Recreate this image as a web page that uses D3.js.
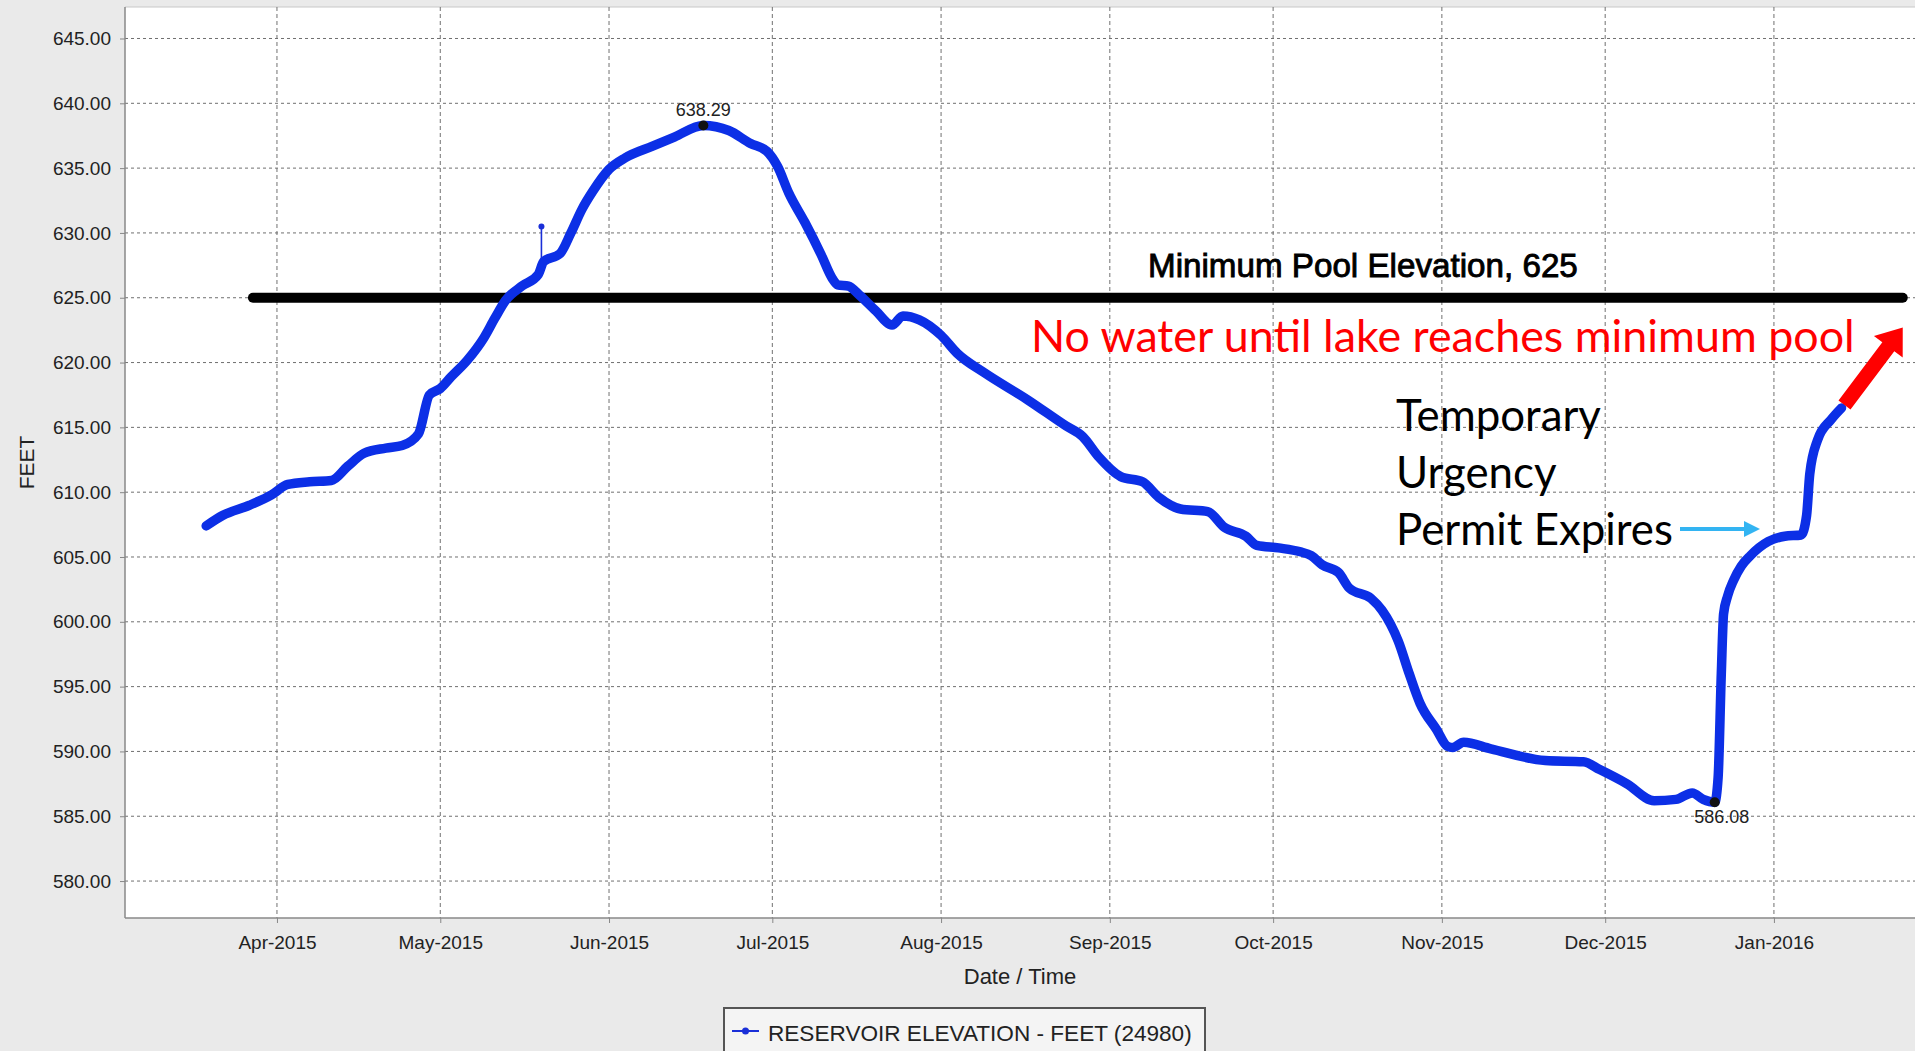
<!DOCTYPE html>
<html><head><meta charset="utf-8">
<script src="https://cdn.jsdelivr.net/npm/d3@7"></script>
<style>html,body{margin:0;padding:0;background:#eaeaea;overflow:hidden}</style>
</head><body><svg id="c" width="1915" height="1051"></svg>
<script>
// ---------- data ----------
const dates = ["2015-03-19","2015-03-22","2015-03-27","2015-03-31","2015-04-03","2015-04-07","2015-04-11","2015-04-14","2015-04-17","2015-04-21","2015-04-24","2015-04-27","2015-04-29","2015-05-01","2015-05-03","2015-05-06","2015-05-09","2015-05-11","2015-05-13","2015-05-16","2015-05-19","2015-05-20","2015-05-23","2015-05-25","2015-05-27","2015-05-29","2015-06-01","2015-06-04","2015-06-09","2015-06-13","2015-06-18T08:00","2015-06-23","2015-06-27","2015-06-30","2015-07-02","2015-07-04","2015-07-07","2015-07-10","2015-07-12","2015-07-13","2015-07-15","2015-07-17","2015-07-20","2015-07-23","2015-07-25","2015-07-28","2015-08-01","2015-08-04","2015-08-09","2015-08-17","2015-08-24","2015-08-27","2015-08-30","2015-09-03","2015-09-07","2015-09-10","2015-09-14","2015-09-19","2015-09-22","2015-09-26","2015-09-28","2015-10-02","2015-10-06","2015-10-08","2015-10-10","2015-10-13","2015-10-15","2015-10-19","2015-10-21","2015-10-24","2015-10-26","2015-10-28","2015-10-31","2015-11-02","2015-11-03","2015-11-05","2015-11-10","2015-11-20","2015-11-27","2015-11-30","2015-12-05","2015-12-10","2015-12-14","2015-12-17","2015-12-19","2015-12-21T03:00","2015-12-21T18:00","2015-12-22T08:00","2015-12-22T18:00","2015-12-23T12:00","2015-12-24T14:00","2015-12-26T00:00","2015-12-27T16:00","2015-12-31","2016-01-03","2016-01-06","2016-01-07","2016-01-07T14:00","2016-01-09","2016-01-11T12:00","2016-01-13T10:00"];
const elevations = [607.4,608.2,609.0,609.8,610.6,610.8,610.9,612.0,613.0,613.4,613.6,614.5,617.5,618.0,618.9,620.2,621.9,623.4,624.8,625.9,626.8,627.8,628.4,630.0,631.8,633.2,634.9,635.8,636.7,637.4,638.29,637.9,636.9,636.3,635.1,633.1,630.8,628.3,626.5,626.0,625.9,625.2,624.0,622.9,623.6,623.3,622.1,620.7,619.2,617.1,615.1,614.3,612.7,611.2,610.8,609.6,608.7,608.5,607.3,606.6,605.9,605.7,605.4,605.1,604.4,603.8,602.6,601.8,600.9,598.5,596.0,593.7,591.7,590.4,590.3,590.7,590.2,589.3,589.2,588.6,587.5,586.2,586.3,586.8,586.3,586.08,588.0,596.0,600.6,602.0,603.2,604.3,605.1,606.2,606.6,606.7,608.2,611.4,614.0,615.6,616.5];
const spikeDate = "2015-05-19T14:00";
const spikeValues = [627.0, 630.5];
const markerDates = ["2015-06-18T08:00","2015-12-21T03:00"];
const markerValues = [638.29, 586.08];
const yTicks = [580,585,590,595,600,605,610,615,620,625,630,635,640,645];
const xTickDates = ["2015-04-01","2015-05-01","2015-06-01","2015-07-01","2015-08-01","2015-09-01","2015-10-01","2015-11-01","2015-12-01","2016-01-01"];
const xTickLabels = ["Apr-2015","May-2015","Jun-2015","Jul-2015","Aug-2015","Sep-2015","Oct-2015","Nov-2015","Dec-2015","Jan-2016"];
const minPool = 625;
const minPoolSpan = ["2015-03-27T14:00","2016-01-24T16:00"];
const redArrowTip = ["2016-01-24T16:00", 622.7];
const seriesName = "RESERVOIR ELEVATION - FEET (24980)";
const yTitle = "FEET";
const xTitle = "Date / Time";
const poolText = "Minimum Pool Elevation, 625";
const redText = "No water until lake reaches minimum pool";
const noteLines = ["Temporary","Urgency","Permit Expires"];

// ---------- setup ----------
const parse = s => new Date(s);
const svg = d3.select("#c");
const P = {l:125, t:7, r:1915, b:918};
const x = d3.scaleTime().domain([parse("2015-03-04T02:00"), parse("2016-01-26T22:00")]).range([P.l, P.r]);
const y = d3.scaleLinear().domain([577.15, 647.43]).range([P.b, P.t]);

svg.append("rect").attr("width",1915).attr("height",1051).attr("fill","#eaeaea");
svg.append("rect").attr("x",P.l).attr("y",P.t).attr("width",P.r-P.l+5).attr("height",P.b-P.t).attr("fill","#ffffff");
svg.append("line").attr("x1",P.l).attr("x2",P.r).attr("y1",P.t).attr("y2",P.t).attr("stroke","#c8c8c8");

// grid
const g = svg.append("g");
g.selectAll(".hg").data(yTicks).join("line")
  .attr("x1",P.l).attr("x2",P.r).attr("y1",d=>y(d)).attr("y2",d=>y(d))
  .attr("stroke","#707070").attr("stroke-width",1).attr("stroke-dasharray","3,3");
g.selectAll(".vg").data(xTickDates).join("line")
  .attr("y1",P.t).attr("y2",P.b).attr("x1",d=>x(parse(d))).attr("x2",d=>x(parse(d)))
  .attr("stroke","#707070").attr("stroke-width",1).attr("stroke-dasharray","4,3");

// axes
const yAxis = d3.axisLeft(y).tickValues(yTicks).tickFormat(d3.format(".2f")).tickSize(5).tickPadding(9);
const ya = svg.append("g").attr("transform",`translate(${P.l},0)`).call(yAxis);
ya.select(".domain").attr("stroke","#888").attr("stroke-width",1.5).attr("d",`M0,${P.t}V${P.b}`);
ya.selectAll(".tick line").attr("stroke","#888");
ya.selectAll("text").attr("font-family","Liberation Sans, Arial, sans-serif").attr("font-size",19).attr("fill","#222");

const xAxis = d3.axisBottom(x).tickValues(xTickDates.map(parse)).tickFormat((d,i)=>xTickLabels[i]).tickSize(5).tickPadding(13);
const xa = svg.append("g").attr("transform",`translate(0,${P.b})`).call(xAxis);
xa.select(".domain").attr("stroke","#888").attr("stroke-width",1.5).attr("d",`M${P.l},0H${P.r}`);
xa.selectAll(".tick line").attr("stroke","#888");
xa.selectAll("text").attr("font-family","Liberation Sans, Arial, sans-serif").attr("font-size",19).attr("fill","#222");

svg.append("text").attr("x",(P.l+P.r)/2).attr("y",984).attr("text-anchor","middle")
  .attr("font-family","Liberation Sans, Arial, sans-serif").attr("font-size",22).attr("fill","#222").text(xTitle);
svg.append("text").attr("transform",`translate(34,${(P.t+P.b)/2}) rotate(-90)`).attr("text-anchor","middle")
  .attr("font-family","Liberation Sans, Arial, sans-serif").attr("font-size",21).attr("fill","#222").text(yTitle);

// minimum pool line
svg.append("line").attr("x1",x(parse(minPoolSpan[0]))).attr("x2",x(parse(minPoolSpan[1])))
  .attr("y1",y(minPool)).attr("y2",y(minPool)).attr("stroke","#000").attr("stroke-width",10).attr("stroke-linecap","round");

function fit(sel, w){ const cw = sel.node().getComputedTextLength(); const fs = parseFloat(sel.attr("font-size")); sel.attr("font-size", fs*w/cw); return fs*w/cw; }

fit(svg.append("text").attr("x",1148).attr("y",277).attr("font-family","Liberation Sans, Arial, sans-serif")
  .attr("font-size",33).attr("fill","#000").attr("stroke","#000").attr("stroke-width",0.9).text(poolText), 430);

// series
const data = dates.map((d,i)=>({date:parse(d), value:elevations[i]}));
svg.append("line").attr("x1",x(parse(spikeDate))).attr("x2",x(parse(spikeDate)))
  .attr("y1",y(spikeValues[0])).attr("y2",y(spikeValues[1])).attr("stroke","#1a2fd8").attr("stroke-width",1.6);
svg.append("circle").attr("cx",x(parse(spikeDate))).attr("cy",y(spikeValues[1])).attr("r",3).attr("fill","#1a2fd8");
const line = d3.line().x(d=>x(d.date)).y(d=>y(d.value)).curve(d3.curveMonotoneX);
svg.append("path").datum(data).attr("d",line).attr("fill","none").attr("stroke","#0c2fe6")
  .attr("stroke-width",9.5).attr("stroke-linejoin","round").attr("stroke-linecap","round");

// markers + labels
markerDates.forEach((d,i)=>{
  svg.append("circle").attr("cx",x(parse(d))).attr("cy",y(markerValues[i])).attr("r",5).attr("fill","#111");
});
svg.append("text").attr("x",x(parse(markerDates[0]))).attr("y",y(markerValues[0])-9).attr("text-anchor","middle")
  .attr("font-family","Liberation Sans, Arial, sans-serif").attr("font-size",18).attr("fill","#222").text(markerValues[0].toFixed(2));
svg.append("text").attr("x",x(parse(markerDates[1]))+7).attr("y",y(markerValues[1])+21).attr("text-anchor","middle")
  .attr("font-family","Liberation Sans, Arial, sans-serif").attr("font-size",18).attr("fill","#222").text(markerValues[1].toFixed(2));

// red annotation
fit(svg.append("text").attr("x",1031).attr("y",352).attr("font-family","Lato, 'Open Sans', sans-serif")
  .attr("font-size",44).attr("fill","#ff0000").text(redText), 824);

// red arrow
const last = data[data.length-1];
const ax0 = x(last.date)+3, ay0 = y(last.value)-3;
const ax1 = x(parse(redArrowTip[0])), ay1 = y(redArrowTip[1]);
const dx = ax1-ax0, dy = ay1-ay0, L = Math.hypot(dx,dy), ux = dx/L, uy = dy/L, px = -uy, py = ux;
const hl = 24, hw = 18, sw = 7.5;
const bx = ax1-ux*hl, by = ay1-uy*hl;
svg.append("polygon").attr("fill","#ff0000").attr("points",[
  [ax0+px*sw, ay0+py*sw],[bx+px*sw, by+py*sw],[bx+px*hw, by+py*hw],[ax1,ay1],
  [bx-px*hw, by-py*hw],[bx-px*sw, by-py*sw],[ax0-px*sw, ay0-py*sw]].map(p=>p.join(",")).join(" "));

// note text
const t0 = svg.append("text").attr("x",1396).attr("y",545).attr("font-family","Lato, 'Open Sans', sans-serif")
  .attr("font-size",42).attr("fill","#000").text(noteLines[2]);
const fs = fit(t0, 277);
svg.append("text").attr("x",1396).attr("y",431).attr("font-family","Lato, 'Open Sans', sans-serif").attr("font-size",fs).attr("fill","#000").text(noteLines[0]);
svg.append("text").attr("x",1396).attr("y",488).attr("font-family","Lato, 'Open Sans', sans-serif").attr("font-size",fs).attr("fill","#000").text(noteLines[1]);
// cyan arrow
svg.append("line").attr("x1",1680).attr("x2",1746).attr("y1",529).attr("y2",529).attr("stroke","#33b4f2").attr("stroke-width",4);
svg.append("polygon").attr("fill","#33b4f2").attr("points","1744,521 1760,529 1744,537");

// legend
svg.append("rect").attr("x",724).attr("y",1008).attr("width",481).attr("height",60).attr("fill","#f4f4f4").attr("stroke","#555").attr("stroke-width",2);
svg.append("line").attr("x1",732).attr("x2",759).attr("y1",1031).attr("y2",1031).attr("stroke","#1a2fd8").attr("stroke-width",2);
svg.append("circle").attr("cx",745.5).attr("cy",1031).attr("r",3.5).attr("fill","#1a2fd8");
fit(svg.append("text").attr("x",768).attr("y",1041).attr("font-family","Liberation Sans, Arial, sans-serif")
  .attr("font-size",23).attr("fill","#222").text(seriesName), 424);
</script></body></html>
